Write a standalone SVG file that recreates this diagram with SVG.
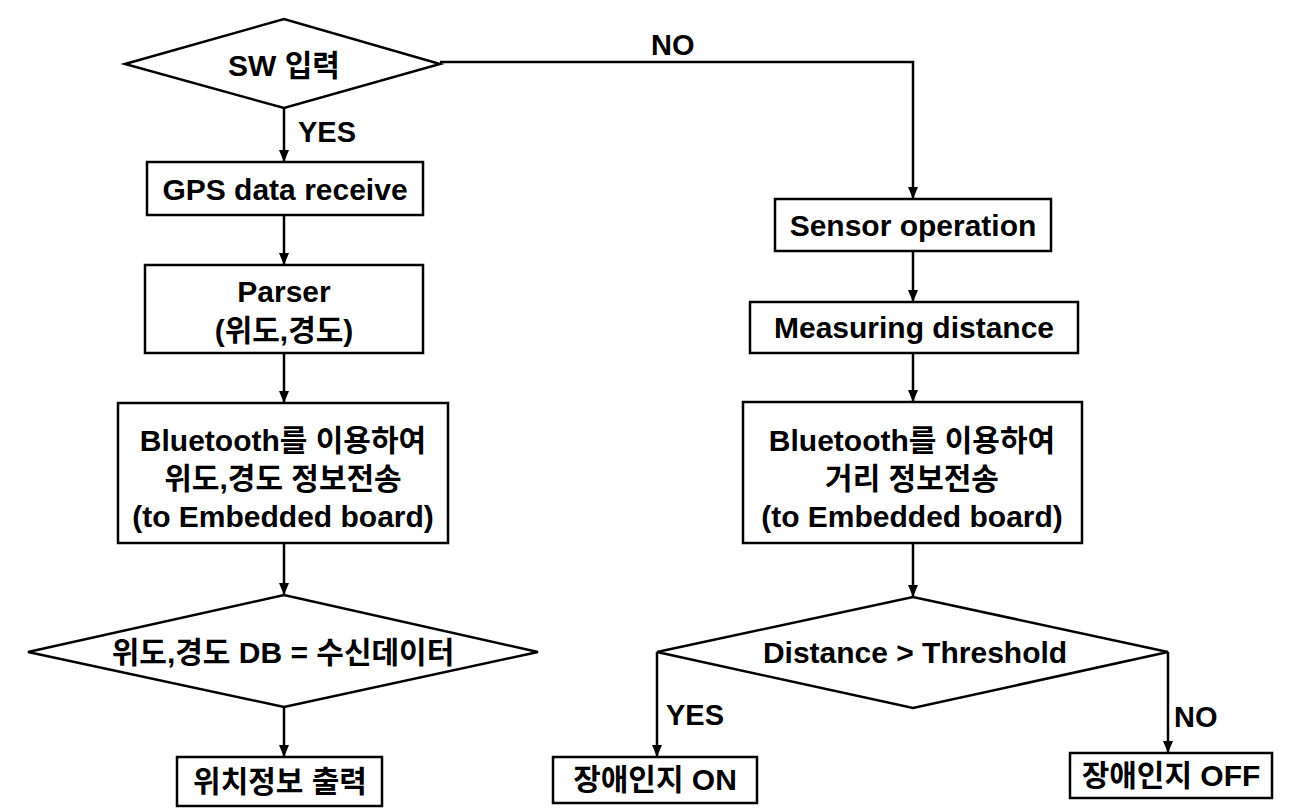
<svg xmlns="http://www.w3.org/2000/svg" width="1291" height="809" viewBox="0 0 1291 809">
<defs>
<marker id="arr" markerUnits="userSpaceOnUse" markerWidth="12" markerHeight="12" viewBox="0 0 12 12" refX="11" refY="6" orient="auto">
<path d="M0,1 L12,6 L0,11 Z" fill="#000"/>
</marker>
<style>
.box{fill:#fff;stroke:#000;stroke-width:2.5}
.t{font-family:"Liberation Sans","Noto Sans CJK KR",sans-serif;font-weight:bold;font-size:30px;fill:#000;text-anchor:middle}
.lbl{font-family:"Liberation Sans","Noto Sans CJK KR",sans-serif;font-weight:bold;font-size:29px;fill:#000}
.c{fill:none;stroke:#000;stroke-width:2.5;marker-end:url(#arr)}
</style>
</defs>
<rect width="1291" height="809" fill="#fff"/>
<g id="connectors">
<path class="c" d="M284,108 L284,161"/>
<path class="c" d="M284,215 L284,264"/>
<path class="c" d="M284,353 L284,402"/>
<path class="c" d="M284,543 L284,594"/>
<path class="c" d="M284,707 L284,756"/>
<path class="c" d="M440,62 L913,62 L913,198"/>
<path class="c" d="M913,251 L913,301"/>
<path class="c" d="M913,353 L913,401"/>
<path class="c" d="M913,543 L913,596"/>
<path class="c" d="M657,652 L657,756"/>
<path class="c" d="M1168,652 L1168,752"/>
<text class="lbl" x="298" y="142">YES</text>
<text class="lbl" x="651" y="55">NO</text>
<text class="lbl" x="666" y="725">YES</text>
<text class="lbl" x="1174" y="727">NO</text>
</g>
<g id="sw">
<polygon class="box" points="125,64 284,19 440,64 284,108"/>
<text class="t" x="284" y="76">SW 입력</text>
</g>
<g id="gps">
<rect class="box" x="147" y="162" width="276" height="53"/>
<text class="t" x="285" y="200">GPS data receive</text>
</g>
<g id="parser">
<rect class="box" x="145" y="265" width="278" height="88"/>
<text class="t" x="284" y="302">Parser</text>
<text class="t" x="284" y="341">(위도,경도)</text>
</g>
<g id="bt-left">
<rect class="box" x="118" y="403" width="330" height="140"/>
<text class="t" x="283" y="451">Bluetooth를 이용하여</text>
<text class="t" x="283" y="489">위도,경도 정보전송</text>
<text class="t" x="283" y="527">(to Embedded board)</text>
</g>
<g id="db-check">
<polygon class="box" points="28,652 284,595 538,652 284,707"/>
<text class="t" x="283" y="663">위도,경도 DB = 수신데이터</text>
</g>
<g id="location-out">
<rect class="box" x="177" y="757" width="205" height="49"/>
<text class="t" x="280" y="792">위치정보 출력</text>
</g>
<g id="sensor">
<rect class="box" x="775" y="199" width="276" height="52"/>
<text class="t" x="913" y="236">Sensor operation</text>
</g>
<g id="measuring">
<rect class="box" x="750" y="302" width="328" height="51"/>
<text class="t" x="914" y="338">Measuring distance</text>
</g>
<g id="bt-right">
<rect class="box" x="743" y="402" width="339" height="141"/>
<text class="t" x="912" y="451">Bluetooth를 이용하여</text>
<text class="t" x="912" y="489">거리 정보전송</text>
<text class="t" x="912" y="527">(to Embedded board)</text>
</g>
<g id="threshold">
<polygon class="box" points="657,652 913,597 1168,652 913,708"/>
<text class="t" x="915" y="663">Distance &gt; Threshold</text>
</g>
<g id="on">
<rect class="box" x="553" y="757" width="204" height="46"/>
<text class="t" x="655" y="790">장애인지 ON</text>
</g>
<g id="off">
<rect class="box" x="1070" y="753" width="202" height="45"/>
<text class="t" x="1171" y="786">장애인지 OFF</text>
</g>
</svg>
